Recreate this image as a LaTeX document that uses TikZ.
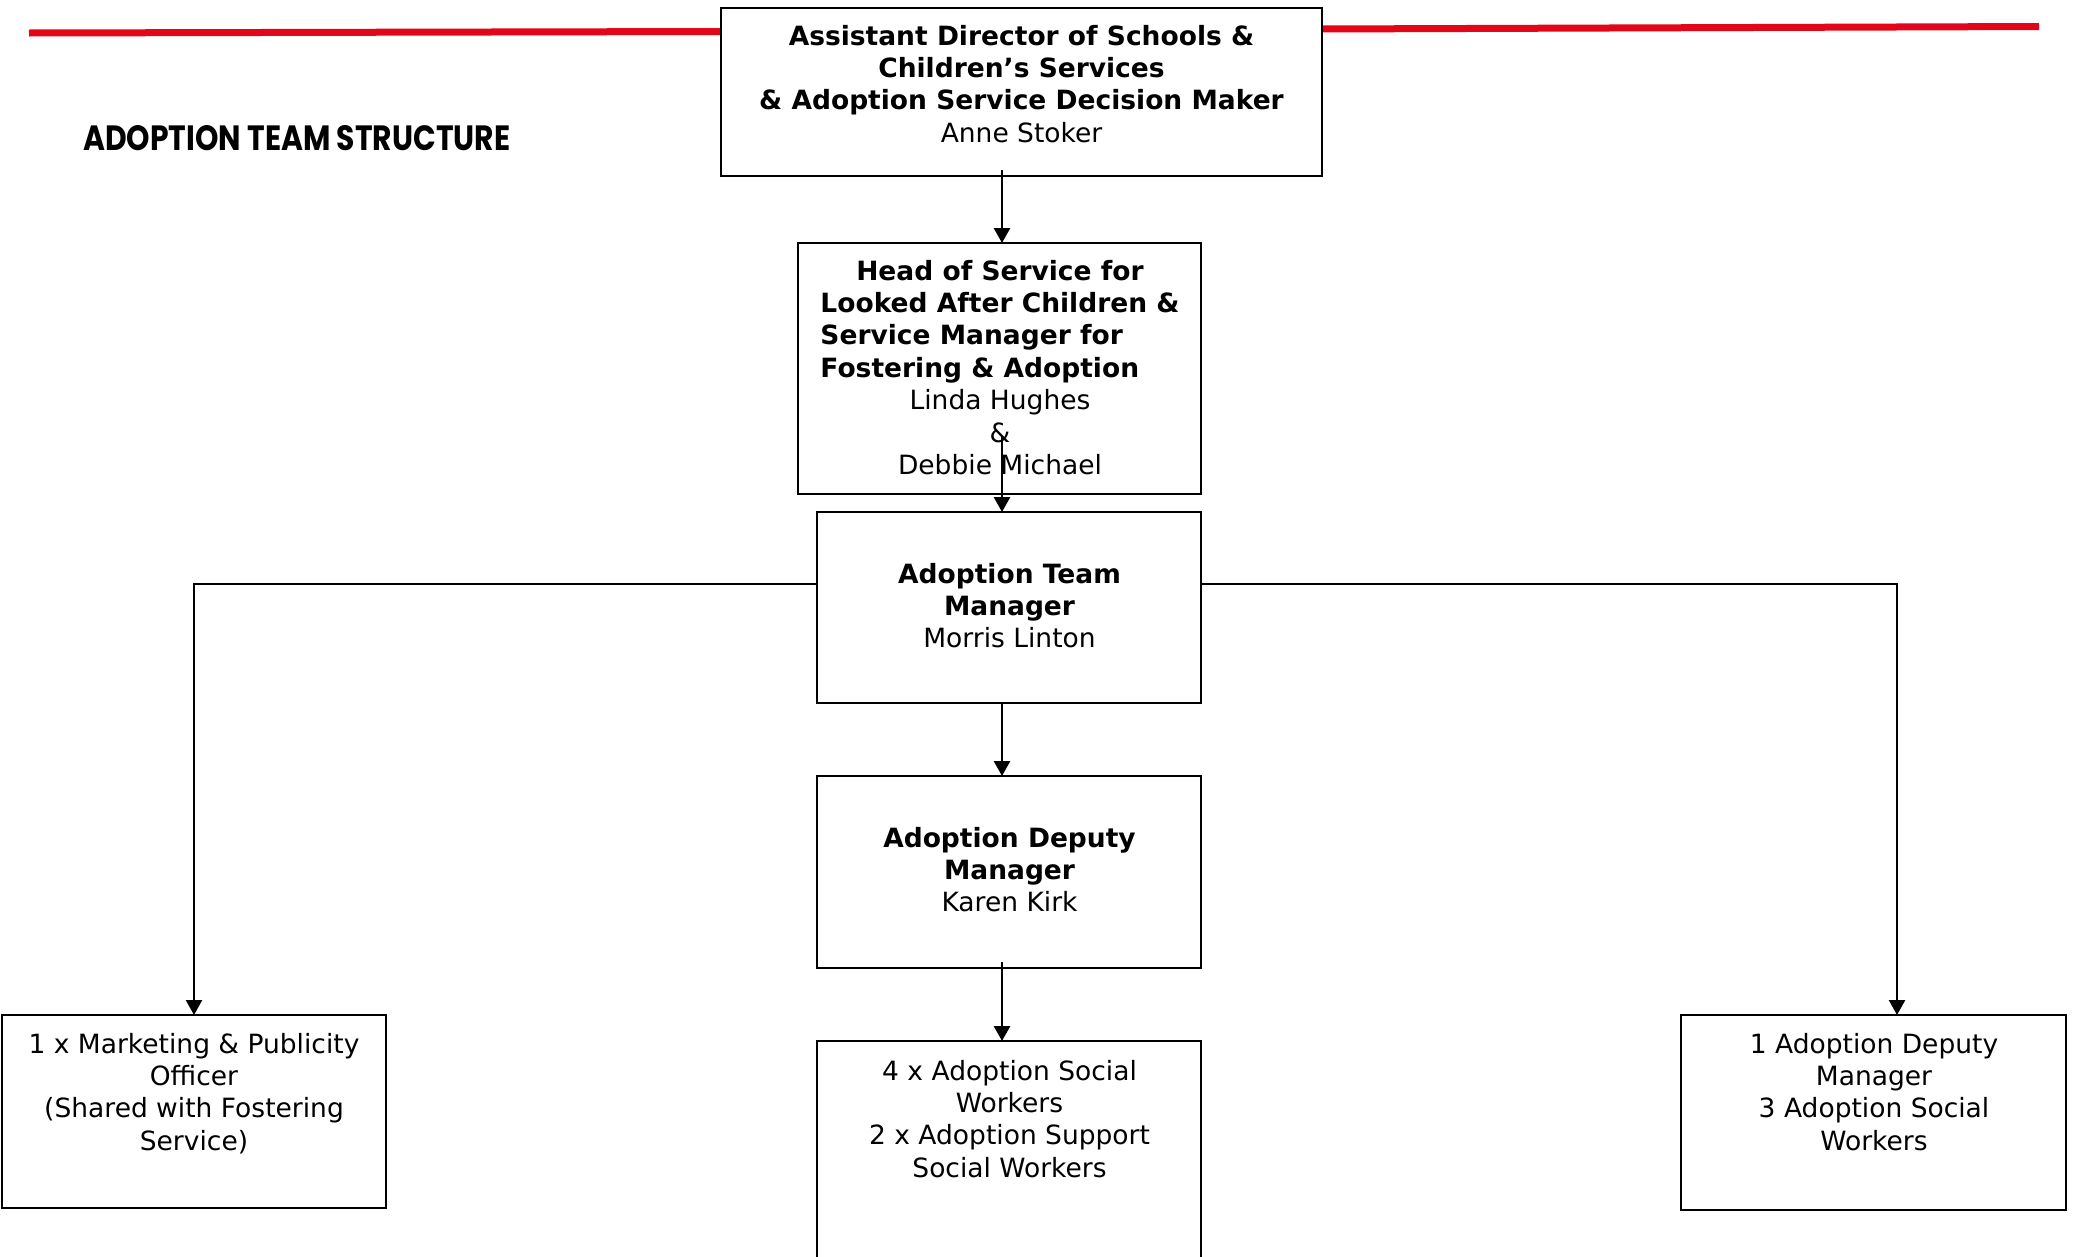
\documentclass[tikz,border=0pt]{standalone}
\usepackage{fontspec}
\setmainfont{DejaVu Sans}
\newfontfamily\titlefont{Poppins}
\usetikzlibrary{arrows.meta,calc}
\definecolor{rulered}{RGB}{227,6,25}
\newlength\lacw
\begin{document}
\settowidth{\lacw}{\fontsize{26.5}{32.4}\selectfont\bfseries Looked After Children \&}%
\begin{tikzpicture}[x=1pt,y=-1pt,
  box/.style={draw=black,line width=2.6pt,rectangle,inner sep=0pt,outer sep=0pt,anchor=north west},
  txt/.style={align=center,inner sep=0pt,outer sep=0pt,anchor=north,font=\fontsize{26.5}{32.4}\selectfont},
  arr/.style={line width=2.8pt,-{Triangle[length=15pt,width=16pt]}},
  conn/.style={line width=2.4pt,-{Triangle[length=15pt,width=16pt]}},
  redrule/.style={draw=rulered,line width=7pt}]
\useasboundingbox (0,0) rectangle (2076,1256);
\newcommand*\fs{\rule{0pt}{22pt}}
% red rules
\coordinate (rl1) at (29,33);
\coordinate (rl2) at (721,31.5);
\coordinate (rr1) at (1322,29);
\coordinate (rr2) at (2039,26.5);
\draw[redrule] (rl1) -- (rl2);
\draw[redrule] (rr1) -- (rr2);
% title
\node[anchor=base west,inner sep=0pt] (title) at (83,150) {\resizebox{427pt}{25pt}{\titlefont\bfseries ADOPTION TEAM STRUCTURE}};
% boxes
\node[box,minimum width=601pt,minimum height=168pt] (top) at (721,8) {};
\node[box,minimum width=403pt,minimum height=251pt] (hos) at (798,243) {};
\node[box,minimum width=384pt,minimum height=191pt] (atm) at (817,512) {};
\node[box,minimum width=384pt,minimum height=192pt] (adm) at (817,776) {};
\node[box,minimum width=384pt,minimum height=262pt] (asw) at (817,1041) {};
\node[box,minimum width=384pt,minimum height=193pt] (mkt) at (2,1015) {};
\node[box,minimum width=385pt,minimum height=195pt] (rgt) at (1681,1015) {};
% texts
\node[txt] (ttop) at (1021.5,23) {\fs\textbf{Assistant Director of Schools \&}\\\textbf{Children’s Services}\\\textbf{\& Adoption Service Decision Maker}\\Anne Stoker};
\node[txt] (thos) at (1000,258) {\fs\textbf{Head of Service for}\\\makebox[\lacw][l]{\bfseries Looked After Children \&}\\\makebox[\lacw][l]{\bfseries Service Manager for}\\\makebox[\lacw][l]{\bfseries Fostering \& Adoption}\\Linda Hughes\\\&\\Debbie Michael};
\node[txt] (tatm) at (1009.5,561) {\fs\textbf{Adoption Team}\\\textbf{Manager}\\Morris Linton};
\node[txt] (tadm) at (1009.5,825) {\fs\textbf{Adoption Deputy}\\\textbf{Manager}\\Karen Kirk};
\node[txt] (tasw) at (1009.5,1058) {\fs 4 x Adoption Social\\Workers\\2 x Adoption Support\\Social Workers};
\node[txt] (tmkt) at (194,1031) {\fs 1 x Marketing \& Publicity\\Officer\\(Shared with Fostering\\Service)};
\node[txt] (trgt) at (1874,1031) {\fs 1 Adoption Deputy\\Manager\\3 Adoption Social\\Workers};
% connectors
\coordinate (cx) at (1002,0);
\coordinate (hy) at (0,584);
\coordinate (rx) at (1897,0);
\draw[arr] ($(top.south -| cx)+(0,-6)$) -- (hos.north -| cx);
\draw[arr] ($(hos.south -| cx)+(0,-57)$) -- (atm.north -| cx);
\draw[arr] (atm.south -| cx) -- (adm.north -| cx);
\draw[arr] ($(adm.south -| cx)+(0,-6)$) -- (asw.north -| cx);
\draw[conn] (atm.west |- hy) -| (mkt.north);
\draw[conn] (atm.east |- hy) -| (rgt.north -| rx);
\end{tikzpicture}
\end{document}
